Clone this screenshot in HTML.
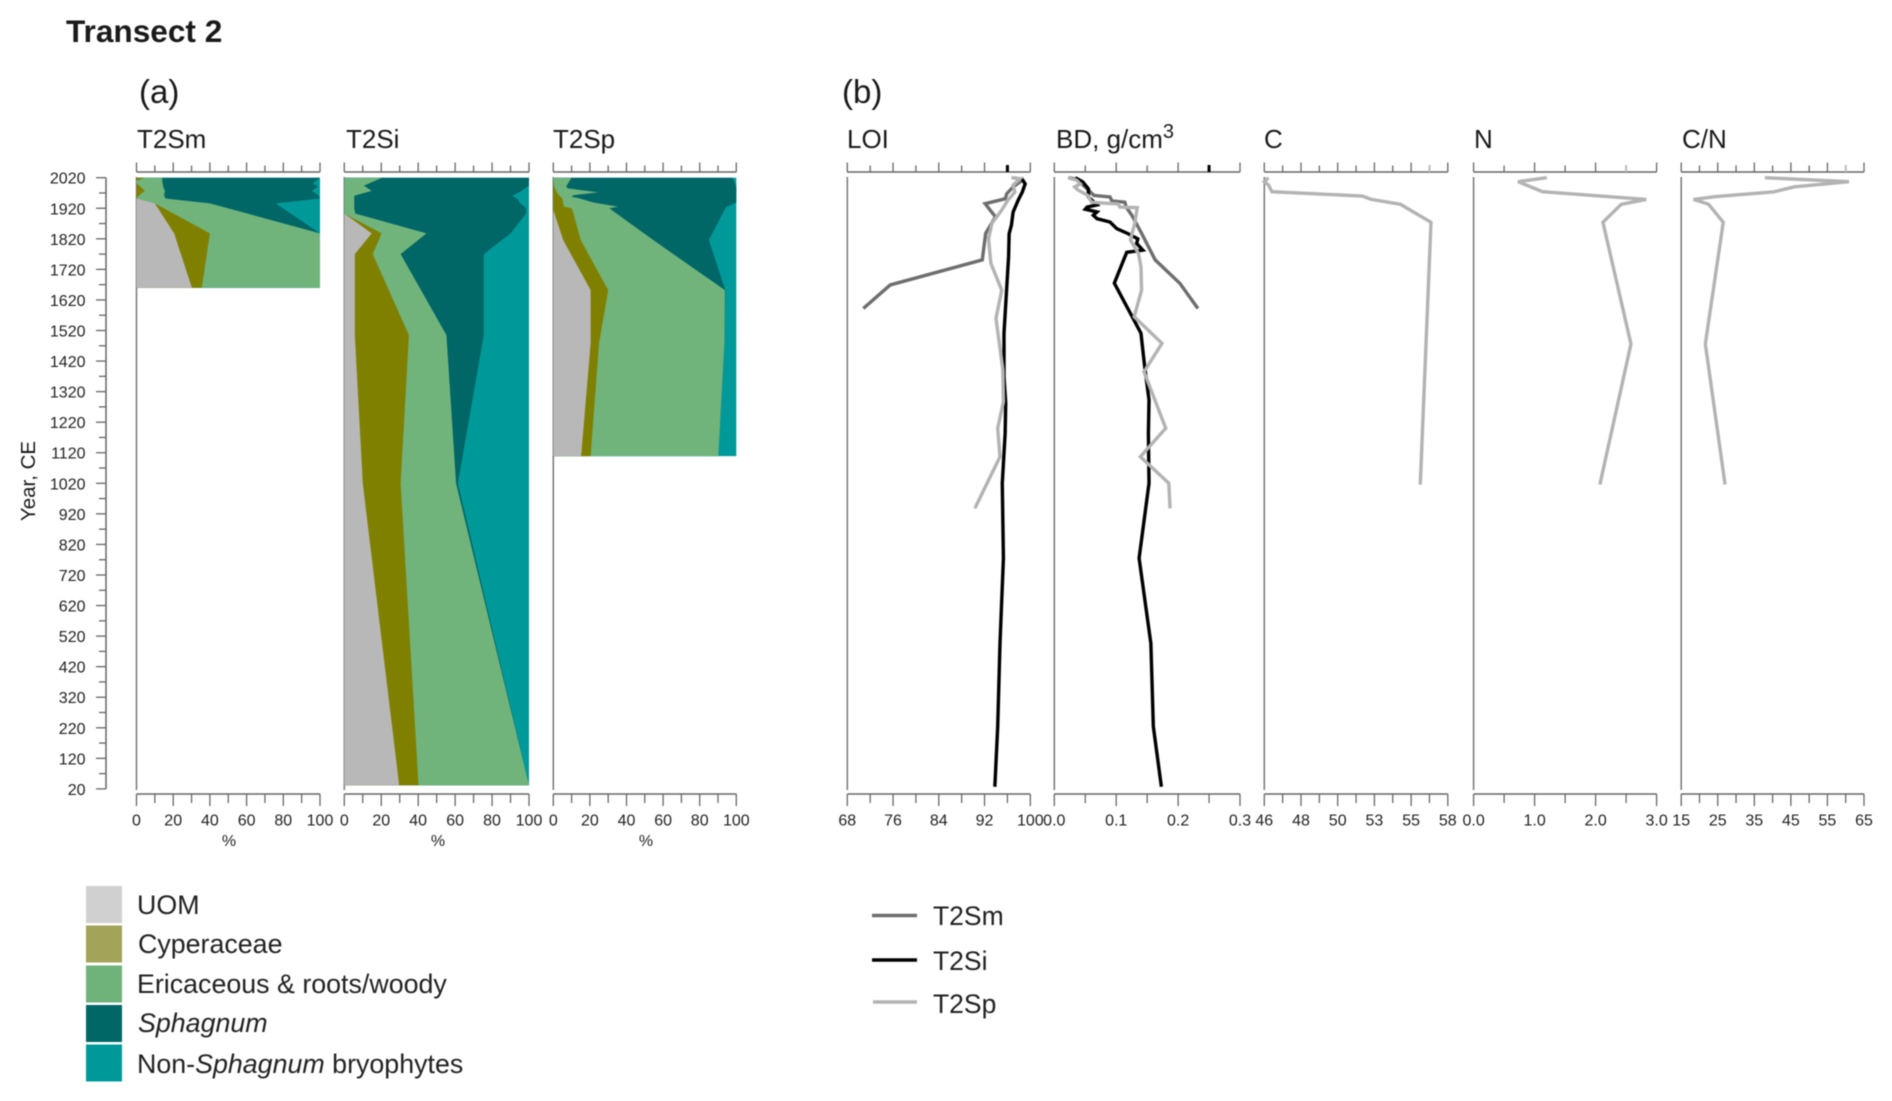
<!DOCTYPE html>
<html lang="en">
<head>
<meta charset="utf-8">
<title>Transect 2</title>
<style>
html,body{margin:0;padding:0;background:#fff;}
svg{display:block;font-family:"Liberation Sans",Arial,sans-serif;filter:blur(0.4px);}
</style>
</head>
<body>
<svg id="chart" xmlns="http://www.w3.org/2000/svg" width="1892" height="1101" viewBox="0 0 1892 1101">
  <rect x="0" y="0" width="1892" height="1101" fill="#fff"/>
  <text x="66" y="42" font-size="31.6" font-weight="bold" fill="#1a1a1a">Transect 2</text>
  <text x="139" y="103" font-size="33" fill="#1a1a1a">(a)</text>
  <text x="842" y="103" font-size="33" fill="#1a1a1a">(b)</text>
  <text x="137" y="148" font-size="26" fill="#1a1a1a">T2Sm</text>
  <text x="346" y="148" font-size="26" fill="#1a1a1a">T2Si</text>
  <text x="553" y="148" font-size="26" fill="#1a1a1a">T2Sp</text>
  <text x="847" y="148" font-size="26" fill="#1a1a1a">LOI</text>
  <text x="1056" y="148" font-size="26" fill="#1a1a1a">BD, g/cm<tspan font-size="20" dy="-10">3</tspan></text>
  <text x="1264" y="148" font-size="26" fill="#1a1a1a">C</text>
  <text x="1474" y="148" font-size="26" fill="#1a1a1a">N</text>
  <text x="1682" y="148" font-size="26" fill="#1a1a1a">C/N</text>
  <text transform="translate(35,481) rotate(-90)" text-anchor="middle" font-size="20.5" fill="#1a1a1a">Year, CE</text>
  <text x="229" y="846" text-anchor="middle" font-size="16" fill="#222">%</text>
  <text x="438" y="846" text-anchor="middle" font-size="16" fill="#222">%</text>
  <text x="646" y="846" text-anchor="middle" font-size="16" fill="#222">%</text>

  <g>
    <rect x="86" y="886" width="36" height="37" fill="#d0d0d0"/>
    <text x="137" y="914" font-size="26.8" fill="#222">UOM</text>
    <rect x="86" y="925.5" width="36" height="37" fill="#a3a35a"/>
    <text x="138" y="953" font-size="26.8" fill="#222">Cyperaceae</text>
    <rect x="86" y="965.5" width="36" height="37" fill="#6fb27a"/>
    <text x="137" y="993" font-size="26.8" fill="#222">Ericaceous &amp; roots/woody</text>
    <rect x="86" y="1005" width="36" height="37" fill="#006666"/>
    <text x="138" y="1032" font-size="26.8" font-style="italic" fill="#222">Sphagnum</text>
    <rect x="86" y="1044.5" width="36" height="37" fill="#009999"/>
    <text x="137" y="1073" font-size="26.8" fill="#222">Non-<tspan font-style="italic">Sphagnum</tspan> bryophytes</text>
  </g>

  <g>
    <line x1="872" x2="917" y1="915.5" y2="915.5" stroke="#6e6e6e" stroke-width="3.4"/>
    <text x="933" y="925" font-size="26.5" fill="#222">T2Sm</text>
    <line x1="872" x2="917" y1="960" y2="960" stroke="#000" stroke-width="3.4"/>
    <text x="933" y="970" font-size="26.5" fill="#222">T2Si</text>
    <line x1="873" x2="917" y1="1002" y2="1002" stroke="#b3b3b3" stroke-width="3.4"/>
    <text x="933" y="1013" font-size="26.5" fill="#222">T2Sp</text>
  </g>
</svg>
<script>
// ---------- Year axis ----------
const yearTicks = [2020,1970,1920,1870,1820,1770,1720,1670,1620,1570,1520,1470,1420,1370,1320,1270,1220,1170,1120,1070,1020,970,920,870,820,770,720,670,620,570,520,470,420,370,320,270,220,170,120,70,20];
const yearLabels = ['2020','','1920','','1820','','1720','','1620','','1520','','1420','','1320','','1220','','1120','','1020','','920','','820','','720','','620','','520','','420','','320','','220','','120','','20'];

// ---------- Composition tick values ----------
const pctTicks = [0,10,20,30,40,50,60,70,80,90,100];
const pctLabels = ['0','','20','','40','','60','','80','','100'];

// ---------- Composition series (percent per taxon) ----------
const t2smYears = [2020,2010,2001,1991,1977,1963,1952,1936,1838,1660];
const t2smUom   = [0,0,0,0,0,0,0,10,20.5,30.2];
const t2smCyp   = [4.5,0,0,2,4.5,1.5,0,0,19.5,5.4];
const t2smEri   = [9.5,14,14.3,12.5,11,13.5,15.8,30,60,64.4];
const t2smSph   = [86,84,81.7,84.5,80,84,84.2,35.8,0,0];
const t2smNon   = [0,2,4,1,4.5,1,0,24.2,0,0];

const t2siYears = [2020,1994,1977,1961,1949,1938,1920,1903,1838,1770,1505,1020,32];
const t2siUom   = [0,0,0,0,0,0,0,0,14.8,5.7,5.7,10,29.7];
const t2siCyp   = [0,0,0,0,0,0,0,0,5.4,9.7,29.3,20.5,10.5];
const t2siEri   = [20.5,10.6,14.8,5.4,5.4,5.4,5.4,5.9,24.3,15.1,20.3,30,59.8];
const t2siSph   = [79.5,89.4,81.2,85.6,88.6,89.6,93.1,92.6,45.5,45,20.2,1,0];
const t2siNon   = [0,0,4,9,6,5,1.5,1.5,10,24.5,24.5,38.5,0];

const t2spYears = [2020,1991,1985,1972,1963,1958,1952,1939,1925,1920,1914,1816,1652,1478,1109];
const t2spUom   = [0,0,0,0,0,0,0,0,0,0,0,5.4,20.4,20.4,15.2];
const t2spCyp   = [0,0.5,1,2,3,4,5,5.3,5.8,10,10.5,9.6,9.6,4.6,5.2];
const t2spEri   = [10,6.5,7,22.6,8,6,9.5,16.6,29.7,20.6,21.5,39.6,63.8,68.5,69.8];
const t2spSph   = [88,93,92,75.4,89,90,85.5,78.1,59.2,63.4,61.5,30.4,0.2,0,0];
const t2spNon   = [2,0,0,0,0,0,0,0,5.3,6,6.5,15,6,6.5,9.8];

// ---------- Proxy axes ----------
const loiTicks = [68,72,76,80,84,88,92,96,100];
const loiLabels = ['68','','76','','84','','92','','100'];
const bdTicks = [0,0.05,0.1,0.15,0.2,0.25,0.3];
const bdLabels = ['0.0','','0.1','','0.2','','0.3'];
const cTicks = [46,47.2,48.4,49.6,50.8,52,53.2,54.4,55.6,56.8,58];
const cLabels = ['46','','48','','50','','53','','55','','58'];
const nTicks = [0,0.5,1,1.5,2,2.5,3];
const nLabels = ['0.0','','1.0','','2.0','','3.0'];
const cnTicks = [15,20,25,30,35,40,45,50,55,60,65];
const cnLabels = ['15','','25','','35','','45','','55','','65'];

// ---------- LOI series ----------
const loiT2smYears = [2020,2010,1990,1968,1951,1935,1892,1838,1751,1669,1592];
const loiT2smValues = [97.3,98.5,97,95.9,95.6,92.1,93.9,92.2,91.6,75.5,70.8];
const loiT2siYears = [2020,2000,1973,1947,1908,1865,1837,1761,1511,1369,1282,1183,1020,775,496,224,27];
const loiT2siValues = [98.4,99.1,98.6,97.9,97,96.7,96.3,96.2,95.4,95.4,95.7,95.6,95.1,95.3,94.7,94.3,93.8];
const loiT2spYears = [2020,2017,1996,1973,1947,1914,1871,1820,1740,1652,1560,1391,1287,1200,1107,938];
const loiT2spValues = [96.7,98.2,97,97.3,96.1,95,93.3,92.7,93.1,95,94,95.2,95.3,94.3,94.7,90.3];

// ---------- Bulk density series ----------
const bdT2smYears = [2020,2015,1980,1962,1957,1944,1940,1924,1898,1838,1751,1674,1592];
const bdT2smValues = [0.023,0.036,0.055,0.064,0.09,0.093,0.114,0.116,0.125,0.141,0.163,0.203,0.232];
const bdT2siYears = [2020,2006,1984,1957,1931,1924,1917,1908,1897,1886,1875,1853,1837,1820,1805,1783,1776,1675,1511,1402,1293,1183,1020,775,496,224,27];
const bdT2siValues = [0.034,0.046,0.055,0.055,0.069,0.053,0.05,0.069,0.063,0.069,0.09,0.101,0.119,0.135,0.133,0.143,0.117,0.097,0.14,0.146,0.153,0.152,0.153,0.137,0.156,0.16,0.173];
const bdT2spYears = [2020,2012,2000,1990,1980,1962,1940,1937,1934,1924,1922,1871,1816,1772,1729,1652,1565,1478,1385,1200,1107,1020,938];
const bdT2spValues = [0.022,0.036,0.042,0.033,0.038,0.054,0.06,0.079,0.103,0.106,0.134,0.13,0.123,0.136,0.14,0.141,0.129,0.174,0.145,0.18,0.139,0.185,0.187];

// ---------- C, N, C/N series (T2Sp) ----------
const cYears = [2020,2007,1996,1974,1960,1949,1933,1874,1016];
const cValues = [46.27,46,46.27,46.5,52.4,53,54.9,56.9,56.2];
const nYears = [2020,2007,1974,1949,1933,1874,1476,1016];
const nValues = [1.2,0.73,1.13,2.83,2.42,2.12,2.58,2.07];
const cnYears = [2020,2007,1990,1974,1958,1949,1933,1874,1476,1016];
const cnValues = [37.9,60.9,46,40.4,24.2,18.4,22.5,26.5,21.6,27];

// ---------- Rendering ----------
const NS = 'http://www.w3.org/2000/svg';
const svg = document.getElementById('chart');

function mk(tag, attrs, parent) {
  const node = document.createElementNS(NS, tag);
  for (const k in attrs) node.setAttribute(k, attrs[k]);
  (parent || svg).appendChild(node);
  return node;
}
function yScale(year) { return 177.7 + (2020 - year) * 0.3056; }
function axisScale(x0, x1, min, max) { return function (v) { return x0 + (v - min) / (max - min) * (x1 - x0); }; }

const AXIS = '#666';
const TOP_Y = 172;
const BOTTOM_Y = 794;

function drawXAxis(key, x, ticks, labels, x0, x1, hi) {
  const g = mk('g', {});
  
  
  [TOP_Y, BOTTOM_Y].forEach(function (ay) {
    const base = mk('line', {x1: x0, x2: x1, y1: ay, y2: ay, stroke: AXIS, 'stroke-width': 1.5}, g);
    
    
    ticks.forEach(function (t, i) {
      const major = labels[i] !== '';
      const len = ay === TOP_Y ? (major ? -9.5 : -6.5) : (major ? 12 : 9);
      const tick = mk('line', {x1: x(t), x2: x(t), y1: ay, y2: ay + len, stroke: AXIS, 'stroke-width': 1.3}, g);
      
      
    });
  });
  ticks.forEach(function (t, i) {
    if (labels[i] === '') return;
    const lab = mk('text', {x: x(t), y: 825.5, 'text-anchor': 'middle', 'font-size': 16, fill: '#222'}, g);
    lab.textContent = labels[i];
    
    
  });
  if (hi) {
    const mark = mk('line', {x1: x(hi.v), x2: x(hi.v), y1: TOP_Y, y2: TOP_Y - 7, stroke: hi.c, 'stroke-width': hi.w}, g);
    
    
  }
}

function drawFrameLine(key, x0) {
  const v = mk('line', {x1: x0, x2: x0, y1: 177, y2: 790, stroke: '#777', 'stroke-width': 1.5});
  
  
}

// year axis
(function () {
  const g = mk('g', {});
  
  
  const spine = mk('line', {x1: 106, x2: 106, y1: yScale(2020), y2: yScale(20), stroke: AXIS, 'stroke-width': 1.5}, g);
  
  
  yearTicks.forEach(function (yr, i) {
    const major = yearLabels[i] !== '';
    const t = mk('line', {x1: major ? 96 : 99, x2: 106, y1: yScale(yr), y2: yScale(yr), stroke: AXIS, 'stroke-width': 1.3}, g);
    
    
    if (major) {
      const l = mk('text', {x: 85.5, y: yScale(yr) + 6, 'text-anchor': 'end', 'font-size': 16, fill: '#222'}, g);
      l.textContent = yearLabels[i];
      
      
    }
  });
})();

// stacked composition panels
const taxaNames = ['uom', 'cyperaceae', 'ericaceous', 'sphagnum', 'non-sphagnum'];
const taxaColors = ['#b8b8b8', '#808000', '#70b47c', '#006666', '#009999'];

function drawStack(key, x0, x1, years, series) {
  const x = axisScale(x0, x1, 0, 100);
  const cum = [];
  series.forEach(function (s, i) {
    cum.push(s.map(function (v, j) { return v + (i ? cum[i - 1][j] : 0); }));
  });
  const g = mk('g', {});
  
  
  for (let i = series.length - 1; i >= 0; i--) {
    const pts = [x(0) + ',' + yScale(years[0])];
    cum[i].forEach(function (v, j) { pts.push(x(v) + ',' + yScale(years[j])); });
    pts.push(x(0) + ',' + yScale(years[years.length - 1]));
    const band = mk('polygon', {points: pts.join(' '), fill: taxaColors[i]}, g);
    
    
  }
}

function drawLine(key, x, years, values, color) {
  const pts = values.map(function (v, i) { return x(v) + ',' + yScale(years[i]); });
  const l = mk('polyline', {points: pts.join(' '), fill: 'none', stroke: color, 'stroke-width': 3.4, 'stroke-linejoin': 'miter', 'stroke-miterlimit': 3});
  
  
}

// panel (a)
[
  ['t2sm', 136.5, 320, t2smYears, [t2smUom, t2smCyp, t2smEri, t2smSph, t2smNon]],
  ['t2si', 344.3, 529, t2siYears, [t2siUom, t2siCyp, t2siEri, t2siSph, t2siNon]],
  ['t2sp', 553.3, 736.3, t2spYears, [t2spUom, t2spCyp, t2spEri, t2spSph, t2spNon]]
].forEach(function (p) {
  drawFrameLine(p[0], p[1]);
  drawStack(p[0], p[1], p[2], p[3], p[4]);
  drawXAxis(p[0], axisScale(p[1], p[2], 0, 100), pctTicks, pctLabels, p[1], p[2]);
});

// panel (b)
const xLoi = axisScale(847.3, 1030.3, 68, 100);
const xBd = axisScale(1054.3, 1240, 0, 0.3);
const xC = axisScale(1264.3, 1447.8, 46, 58);
const xN = axisScale(1473.6, 1656.6, 0, 3);
const xCn = axisScale(1681.2, 1864, 15, 65);

drawFrameLine('loi', 847.3);
drawFrameLine('bd', 1054.3);
drawFrameLine('c', 1264.3);
drawFrameLine('n', 1473.6);
drawFrameLine('cn', 1681.2);

drawXAxis('loi', xLoi, loiTicks, loiLabels, 847.3, 1030.3, {v: 96, c: '#000', w: 3});
drawXAxis('bd', xBd, bdTicks, bdLabels, 1054.3, 1240, {v: 0.25, c: '#000', w: 3});
drawXAxis('c', xC, cTicks, cLabels, 1264.3, 1447.8, {v: 56.8, c: '#bbb', w: 2});
drawXAxis('n', xN, nTicks, nLabels, 1473.6, 1656.6, {v: 2.5, c: '#bbb', w: 2});
drawXAxis('cn', xCn, cnTicks, cnLabels, 1681.2, 1864, {v: 60, c: '#bbb', w: 2});

drawLine('loi-line-t2sm', xLoi, loiT2smYears, loiT2smValues, '#6e6e6e');
drawLine('loi-line-t2si', xLoi, loiT2siYears, loiT2siValues, '#000');
drawLine('loi-line-t2sp', xLoi, loiT2spYears, loiT2spValues, '#b3b3b3');
drawLine('bd-line-t2sm', xBd, bdT2smYears, bdT2smValues, '#6e6e6e');
drawLine('bd-line-t2si', xBd, bdT2siYears, bdT2siValues, '#000');
drawLine('bd-line-t2sp', xBd, bdT2spYears, bdT2spValues, '#b3b3b3');
drawLine('c-line-t2sp', xC, cYears, cValues, '#b3b3b3');
drawLine('n-line-t2sp', xN, nYears, nValues, '#b3b3b3');
drawLine('cn-line-t2sp', xCn, cnYears, cnValues, '#b3b3b3');
</script>
</body>
</html>
